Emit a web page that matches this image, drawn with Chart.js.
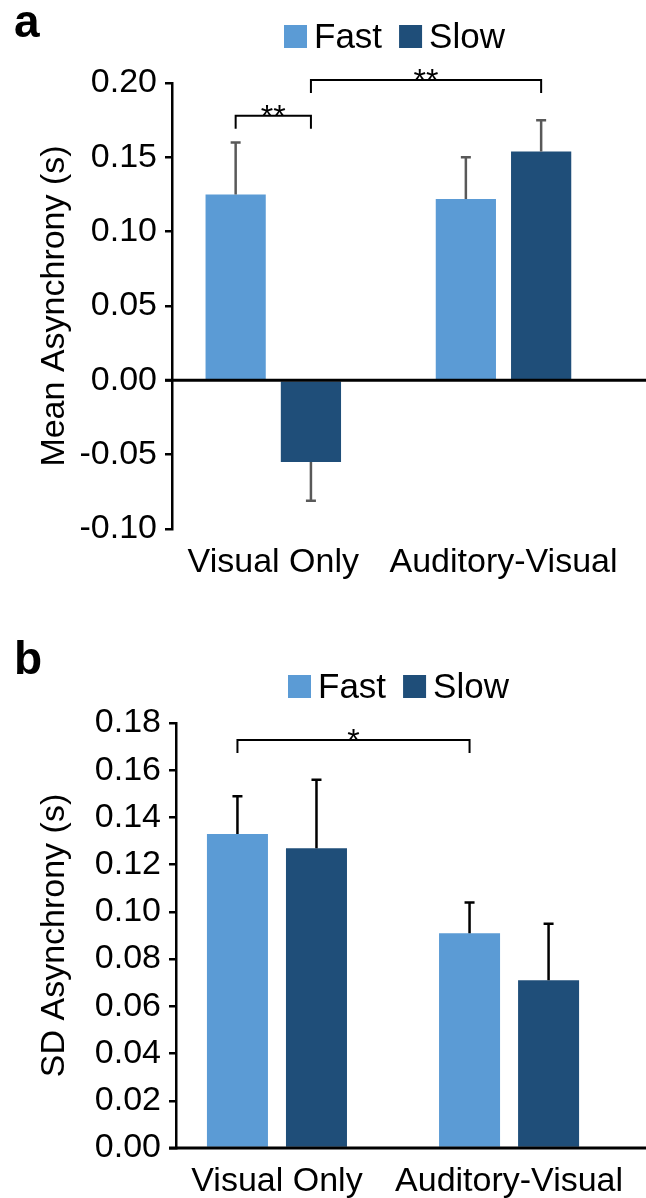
<!DOCTYPE html>
<html>
<head>
<meta charset="utf-8">
<script src="https://cdn.jsdelivr.net/npm/chart.js@4.4.0/dist/chart.umd.min.js"></script>
<style>
  html, body { margin: 0; padding: 0; background: #fff; }
  .painel { position: absolute; left: 0; width: 646px; }
  #painelA { top: 0; height: 600px; }
  #painelB { top: 600px; height: 598px; }
</style>
</head>
<body>
<div class="painel" id="painelA"><canvas id="graficoA" width="646" height="600"></canvas></div>
<div class="painel" id="painelB"><canvas id="graficoB" width="646" height="598"></canvas></div>
<script>
const grupos = ["Visual Only", "Auditory-Visual"];
const nomesSeries = ["Fast", "Slow"];
const corFast = "#5b9bd5";
const corSlow = "#1f4e79";

// Painel a - média da assincronia (s)
const mediaFast = [0.125, 0.122];
const mediaSlow = [-0.055, 0.154];
const erroMediaFast = [0.035, 0.028];
const erroMediaSlow = [0.026, 0.021];
const ticksMedia = [-0.10, -0.05, 0.00, 0.05, 0.10, 0.15, 0.20];
// colchetes de significância: [série, grupo] até [série, grupo], altura no eixo y
const sigMedia = [
  { de: [0, 0], ate: [1, 0], nivel: 0.178, texto: "**" },
  { de: [1, 0], ate: [1, 1], nivel: 0.202, texto: "**" }
];

// Painel b - desvio padrão da assincronia (s)
const dpFast = [0.133, 0.091];
const dpSlow = [0.127, 0.071];
const erroDpFast = [0.016, 0.013];
const erroDpSlow = [0.029, 0.024];
const ticksDp = [0.00, 0.02, 0.04, 0.06, 0.08, 0.10, 0.12, 0.14, 0.16, 0.18];
const sigDp = [
  { de: [0, 0], ate: [0, 1], nivel: 0.1728, texto: "*" }
];

Chart.defaults.font.family = "'Liberation Sans', Arial, Helvetica, sans-serif";
Chart.defaults.color = "#000";

// Barras de erro, linha do zero, colchetes, legenda e letra do painel
const extras = {
  id: "extras",
  afterDatasetsDraw(chart, args, o) {
    const ctx = chart.ctx;
    const y = chart.scales.y;
    const area = chart.chartArea;
    ctx.save();

    // barras de erro (só para fora do zero)
    ctx.strokeStyle = o.corErro;
    ctx.lineWidth = 2.5;
    chart.data.datasets.forEach((ds, i) => {
      chart.getDatasetMeta(i).data.forEach((bar, j) => {
        const v = ds.data[j].y;
        const fim = y.getPixelForValue(v + Math.sign(v) * ds.erro[j]);
        ctx.beginPath();
        ctx.moveTo(bar.x, bar.y);
        ctx.lineTo(bar.x, fim);
        ctx.moveTo(bar.x - 5, fim);
        ctx.lineTo(bar.x + 5, fim);
        ctx.stroke();
      });
    });

    // linha do zero
    const y0 = y.getPixelForValue(0);
    ctx.strokeStyle = "#000";
    ctx.lineWidth = 3;
    ctx.beginPath();
    ctx.moveTo(area.left - 7, y0);
    ctx.lineTo(chart.width, y0);
    ctx.stroke();

    // colchetes de significância
    ctx.lineWidth = 2;
    ctx.font = "32px 'Liberation Sans', Arial, sans-serif";
    ctx.textAlign = "center";
    ctx.textBaseline = "alphabetic";
    ctx.fillStyle = "#000";
    o.sig.forEach(s => {
      const x1 = chart.getDatasetMeta(s.de[0]).data[s.de[1]].x;
      const x2 = chart.getDatasetMeta(s.ate[0]).data[s.ate[1]].x;
      const yl = y.getPixelForValue(s.nivel);
      ctx.beginPath();
      ctx.moveTo(x1, yl + 13);
      ctx.lineTo(x1, yl);
      ctx.lineTo(x2, yl);
      ctx.lineTo(x2, yl + 13);
      ctx.stroke();
      ctx.fillText(s.texto, (x1 + x2) / 2, yl + 11);
    });
    ctx.restore();
  },
  afterDraw(chart, args, o) {
    const ctx = chart.ctx;
    ctx.save();
    // legenda
    ctx.font = "35px 'Liberation Sans', Arial, sans-serif";
    ctx.textBaseline = "alphabetic";
    ctx.textAlign = "left";
    let x = o.legendaX;
    chart.data.datasets.forEach(ds => {
      ctx.fillStyle = ds.backgroundColor;
      ctx.fillRect(x, o.legendaY, 23, 23);
      ctx.fillStyle = "#000";
      ctx.fillText(ds.label, x + 30, o.legendaY + 23);
      x += 30 + ctx.measureText(ds.label).width + 17;
    });
    // letra do painel
    ctx.font = "bold 46px 'Liberation Sans', Arial, sans-serif";
    ctx.fillText(o.letra, 14, o.letraY);
    ctx.restore();
  }
};

function montarGrafico(id, fast, slow, erroF, erroS, p) {
  const ctx = document.getElementById(id);
  return new Chart(ctx, {
    type: "bar",
    data: {
      datasets: [
        { label: nomesSeries[0], data: grupos.map((g, i) => ({ x: i, y: fast[i] })), erro: erroF, backgroundColor: corFast },
        { label: nomesSeries[1], data: grupos.map((g, i) => ({ x: i, y: slow[i] })), erro: erroS, backgroundColor: corSlow }
      ]
    },
    options: {
      responsive: false,
      animation: false,
      events: [],
      devicePixelRatio: 1,
      categoryPercentage: p.cp,
      barPercentage: p.bp,
      layout: { padding: { top: p.topo, right: 0, bottom: 0, left: 0 } },
      plugins: {
        legend: { display: false },
        tooltip: { enabled: false },
        extras: { corErro: p.corErro, sig: p.sig, legendaX: p.legendaX, legendaY: p.legendaY, letra: p.letra, letraY: p.letraY }
      },
      scales: {
        x: {
          type: "linear",
          offset: false,
          min: p.xMin,
          max: p.xMax,
          afterBuildTicks: s => { s.ticks = grupos.map((g, i) => ({ value: i })); },
          afterFit: s => { s.height = p.alturaX; },
          grid: { display: false, drawTicks: false },
          border: { display: false },
          ticks: { callback: v => grupos[v], font: { size: 34 }, padding: 13, autoSkip: false, maxRotation: 0 }
        },
        y: {
          min: p.ticks[0],
          max: p.ticks[p.ticks.length - 1],
          afterBuildTicks: s => { s.ticks = p.ticks.map(v => ({ value: v })); },
          afterFit: s => { s.width = p.larguraY; },
          grid: { drawOnChartArea: false, tickLength: 7, color: "#000", lineWidth: 2.5 },
          border: { display: true, color: "#000", width: 2.5 },
          ticks: { callback: v => Number(v).toFixed(2), font: { size: 34 }, padding: 8 },
          title: { display: true, text: p.titulo, font: { size: 34 }, padding: { top: 34, bottom: 0 } }
        }
      }
    },
    plugins: [extras]
  });
}

montarGrafico("graficoA", mediaFast, mediaSlow, erroMediaFast, erroMediaSlow, {
  ticks: ticksMedia, sig: sigMedia, titulo: "Mean Asynchrony (s)", corErro: "#595959",
  cp: 0.654, bp: 0.80, xMin: -0.44, xMax: 1.619, topo: 83, alturaX: 71, larguraY: 172,
  legendaX: 284, legendaY: 25, letra: "a", letraY: 37
});

montarGrafico("graficoB", dpFast, dpSlow, erroDpFast, erroDpSlow, {
  ticks: ticksDp, sig: sigDp, titulo: "SD Asynchrony (s)", corErro: "#000",
  cp: 0.681, bp: 0.772, xMin: -0.435, xMax: 1.59, topo: 123, alturaX: 50, larguraY: 176,
  legendaX: 288, legendaY: 75, letra: "b", letraY: 74
});
</script>
</body>
</html>
